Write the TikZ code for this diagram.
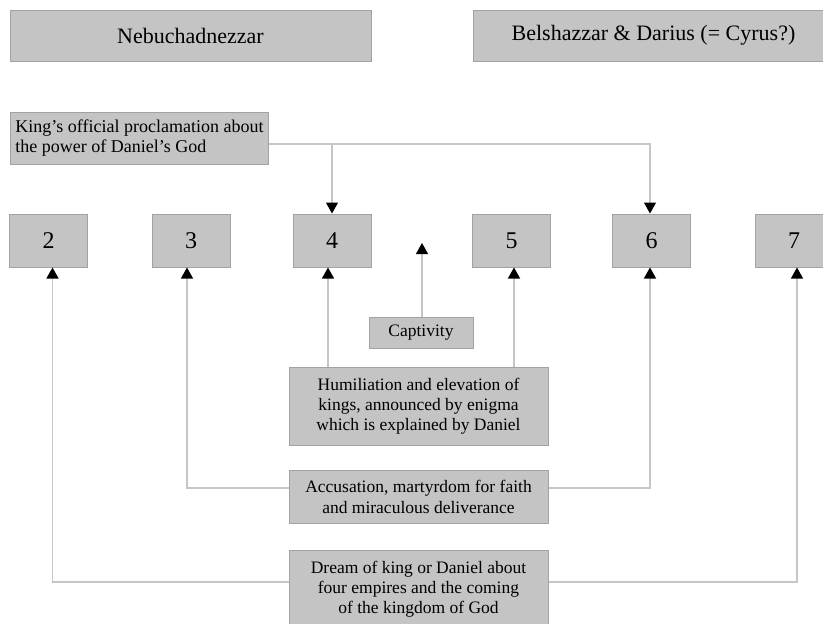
\documentclass[tikz,border=0pt]{standalone}
\usepackage{fontspec}
\setmainfont{Liberation Serif}
\usetikzlibrary{arrows.meta,calc}
\definecolor{boxfill}{HTML}{C4C4C4}
\definecolor{boxline}{HTML}{A2A2A2}
\definecolor{connline}{HTML}{C6C6C6}
\begin{document}
\begin{tikzpicture}[x=1pt,y=-1pt,
  box/.style={draw=boxline, fill=boxfill, line width=1pt, inner sep=0pt,
    font=\fontsize{17.5}{20}\selectfont, align=center},
  headbox/.style={box, minimum width=361pt, minimum height=51pt,
    font=\fontsize{22}{26}\selectfont},
  numbox/.style={box, minimum width=78pt, minimum height=53pt,
    font=\fontsize{24}{28}\selectfont},
  midbox/.style={box, minimum width=259pt},
  conn/.style={draw=connline, line width=1.2pt},
  arr/.style={conn, -{Triangle[width=12pt,length=11pt,color=black]}}]
\useasboundingbox (0,0) rectangle (823,624);
\clip (0,0) rectangle (823,624);

% header boxes
\node[headbox] (neb) at (190.5,35.5) {Nebuchadnezzar};
\node[headbox] (bel) at (653.5,35.5) {Belshazzar \& Darius (= Cyrus?)};

% proclamation box
\node[box, anchor=west, inner xsep=3pt, minimum width=258pt,
  minimum height=52pt, align=left, font=\fontsize{18}{20}\selectfont]
  (king) at (10,138) {King's official proclamation about\\the power of Daniel's God\hfill\null};

% chapter boxes
\node[numbox] (n2) at (48.5,240.5) {2};
\node[numbox] (n3) at (191,240.5) {3};
\node[numbox] (n4) at (332,240.5) {4};
\node[numbox] (n5) at (511.5,240.5) {5};
\node[numbox] (n6) at (651.5,240.5) {6};
\node[numbox] (n7) at (794,240.5) {7};

% theme boxes
\node[box, minimum width=104pt, minimum height=31pt] (capt) at (421,332.5) {Captivity};
\node[midbox, minimum height=78pt] (humil) at (418.5,406)
  {Humiliation and elevation of\\kings, announced by enigma\\which is explained by Daniel};
\node[midbox, minimum height=53pt, font=\fontsize{17.5}{21}\selectfont] (accus) at (418.5,496.5)
  {Accusation, martyrdom for faith\\and miraculous deliverance};
\node[midbox, minimum height=78pt] (dream) at (418.5,589)
  {Dream of king or Daniel about\\four empires and the coming\\of the kingdom of God};

\coordinate (capttip) at (422,243);
\coordinate (kingbranch) at (332,144);

% proclamation connectors
\draw[conn] ([yshift=-6pt]king.east) -- (kingbranch);
\draw[arr] (kingbranch) -- (n4.north);
\draw[arr] (kingbranch) -| ([xshift=-1.5pt]n6.north);

% captivity
\draw[arr] ([xshift=1pt]capt.north) -- (capttip);

% humiliation
\draw[arr] ([xshift=-90.5pt]humil.north) -- ([xshift=-4pt]n4.south);
\draw[arr] ([xshift=95.5pt]humil.north) -- ([xshift=2.5pt]n5.south);

% accusation
\draw[arr] ([yshift=8.5pt]accus.west) -| ([xshift=-4pt]n3.south);
\draw[arr] ([yshift=8.5pt]accus.east) -| ([xshift=-1.5pt]n6.south);

% dream
\draw[arr] ([yshift=7pt]dream.west) -| ([xshift=4pt]n2.south);
\draw[arr] ([yshift=7pt]dream.east) -| ([xshift=3pt]n7.south);
\end{tikzpicture}
\end{document}
